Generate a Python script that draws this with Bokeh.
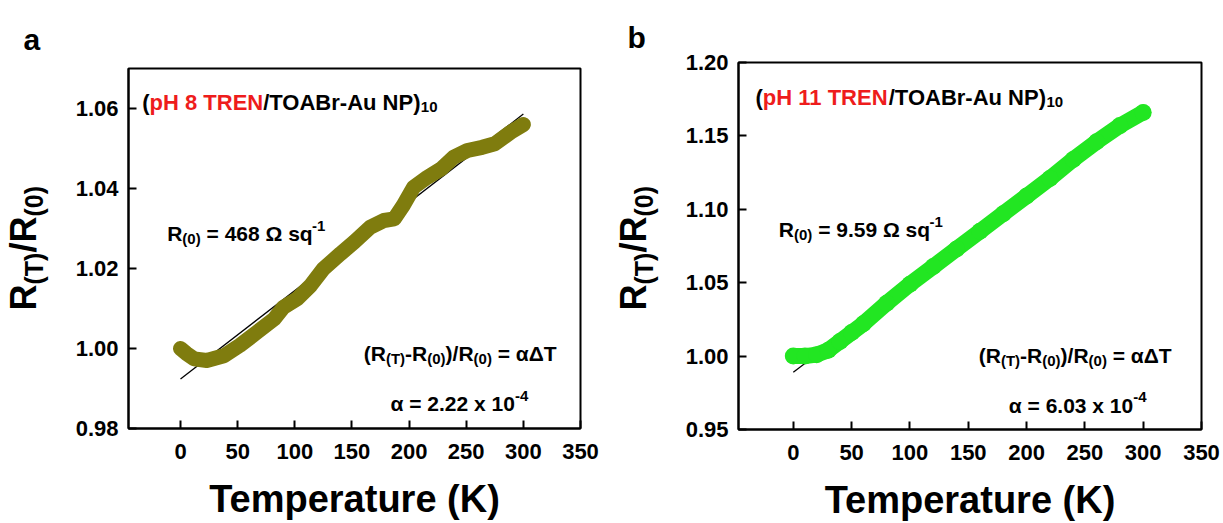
import math
from bokeh.plotting import figure
from bokeh.layouts import row
from bokeh.models import Label, FixedTicker, NumeralTickFormatter
from bokeh.embed import file_html
from bokeh.resources import INLINE

# ---------------- data ----------------
temp_a = [0, 5, 12, 23, 38, 52, 67, 82, 90, 102, 114, 125, 140, 152, 166, 178,
          187, 195, 204, 216, 228, 239, 251, 264, 275, 289, 300]
ratio_a = [1.000, 0.9988, 0.9974, 0.9970, 0.9982, 1.0008, 1.0041, 1.0074, 1.0103,
           1.0124, 1.0158, 1.0199, 1.0237, 1.0266, 1.0303, 1.0320, 1.0324, 1.0358,
           1.0403, 1.0428, 1.0449, 1.0478, 1.0495, 1.0503, 1.0512, 1.0541, 1.0560]
fit_temp_a = [0, 300]
fit_ratio_a = [0.9924, 1.0586]

temp_b = [0, 10, 20, 30, 40, 50, 60, 80, 100, 120, 140, 160, 180, 200, 220, 240,
          260, 280, 300]
ratio_b = [1.000, 1.000, 1.001, 1.004, 1.010, 1.016, 1.022, 1.036, 1.049, 1.061,
           1.073, 1.085, 1.097, 1.109, 1.121, 1.134, 1.146, 1.157, 1.166]
fit_temp_b = [0, 300]
fit_ratio_b = [0.989, 1.170]

x_ticks = [0, 50, 100, 150, 200, 250, 300, 350]
x_tick_labels = ["0", "50", "100", "150", "200", "250", "300", "350"]
y_ticks_a = [0.98, 1.00, 1.02, 1.04, 1.06]
y_tick_labels_a = ["0.98", "1.00", "1.02", "1.04", "1.06"]
y_ticks_b = [0.95, 1.00, 1.05, 1.10, 1.15, 1.20]
y_tick_labels_b = ["0.95", "1.00", "1.05", "1.10", "1.15", "1.20"]

FONT = "Liberation Sans"
RED = "#ee1c1c"
OLIVE = "#7f7c0e"
GREEN = "#22e622"

# Arial/Liberation Sans Bold advance widths (per 1000 em)
W = {' ': 278, '(': 333, ')': 333, '-': 333, '.': 278, '/': 278, '=': 584,
     'A': 722, 'B': 722, 'E': 667, 'H': 722, 'K': 722, 'N': 722, 'O': 778,
     'P': 667, 'R': 722, 'T': 611, 'a': 556, 'e': 556, 'm': 889, 'p': 611,
     'q': 611, 'r': 389, 's': 556, 't': 333, 'u': 611, 'x': 556,
     'Ω': 768, 'α': 618, 'Δ': 722}
for d in "0123456789":
    W[d] = 556


def text_w(s, size):
    return sum(W.get(c, 600) for c in s) / 1000.0 * size


class Panel:
    """Geometry of one figure; frame given in absolute page pixels."""
    def __init__(self, x0, width, height, frame, xr, yr):
        self.x0, self.width, self.height = x0, width, height
        self.L, self.T, self.R, self.B = frame
        self.xr, self.yr = xr, yr

    def to_data(self, px, py):
        x0, x1 = self.xr
        y0, y1 = self.yr
        x = x0 + (px - self.L) / (self.R - self.L) * (x1 - x0)
        y = y1 - (py - self.T) / (self.B - self.T) * (y1 - y0)
        return x, y


def no_align(p):
    try:
        p.frame_align = False
    except Exception:
        pass


def make_fig(g, y_ticks, y_labels):
    p = figure(width=g.width, height=g.height, x_range=g.xr, y_range=g.yr,
               output_backend="svg", toolbar_location=None,
               min_border_left=g.L - g.x0, min_border_right=g.x0 + g.width - g.R,
               min_border_top=g.T, min_border_bottom=g.height - g.B)
    no_align(p)
    p.grid.visible = False
    p.outline_line_color = "black"
    p.outline_line_width = 2
    p.background_fill_color = "white"
    p.border_fill_color = "white"
    for ax in (p.xaxis[0], p.yaxis[0]):
        ax.axis_line_width = 2
        ax.axis_line_color = "black"
        ax.major_tick_in = 8
        ax.major_tick_out = 0
        ax.minor_tick_in = 0
        ax.minor_tick_out = 0
        ax.major_tick_line_width = 2
        ax.major_tick_line_color = "black"
        ax.major_label_text_font = FONT
        ax.major_label_text_font_style = "bold"
        ax.major_label_text_font_size = "22px"
        ax.major_label_text_color = "black"
    xa = p.xaxis[0]
    xa.ticker = FixedTicker(ticks=x_ticks)
    xa.major_label_overrides = {t: l for t, l in zip(x_ticks, x_tick_labels)}
    xa.major_label_standoff = 15
    xa.axis_label = "Temperature (K)"
    xa.axis_label_text_font = FONT
    xa.axis_label_text_font_style = "bold"
    xa.axis_label_text_font_size = "38px"
    xa.axis_label_text_color = "black"
    xa.axis_label_standoff = 16
    ya = p.yaxis[0]
    ya.ticker = FixedTicker(ticks=y_ticks)
    ya.formatter = NumeralTickFormatter(format="0.00")
    ya.major_label_overrides = {t: l for t, l in zip(y_ticks, y_labels)}
    ya.major_label_standoff = 10
    return p


def make_side(g):
    p = figure(width=g.width, height=g.height, x_range=g.xr, y_range=g.yr,
               output_backend="svg", toolbar_location=None, min_border=0,
               min_border_left=0, min_border_right=0, min_border_top=0,
               min_border_bottom=0, x_axis_location=None, y_axis_location=None)
    no_align(p)
    p.grid.visible = False
    p.outline_line_color = None
    p.background_fill_color = "white"
    p.border_fill_color = "white"
    return p


def label(p, x, y, txt, size, color, align, baseline, angle):
    p.add_layout(Label(x=x, y=y, x_units="data", y_units="data", text=txt,
                       text_font=FONT, text_font_style="bold",
                       text_font_size=f"{size}px", text_color=color,
                       text_align=align, text_baseline=baseline, angle=angle))


def runs(p, g, px, py, parts):
    """Horizontal rich text. parts: (text, size, shift, color); shift>0 = down."""
    for txt, size, shift, color in parts:
        lead = len(txt) - len(txt.lstrip(" "))
        if lead:
            px += text_w(" " * lead, size)
            txt = txt.lstrip(" ")
        x, y = g.to_data(px, py + shift)
        label(p, x, y, txt, size, color, "left", "alphabetic", 0.0)
        px += text_w(txt, size)


def vruns(p, g, bx, py, parts):
    """Text rotated 90deg (reads bottom to top). bx: baseline x, py: start y."""
    for txt, size, shift, color in parts:
        w = text_w(txt, size)
        cx = bx + shift - 0.35 * size
        cy = py - w / 2.0
        x, y = g.to_data(cx, cy)
        label(p, x, y, txt, size, color, "center", "middle", math.pi / 2)
        py -= w


def side_labels(p, g, letter, letter_pos, ylab_pos):
    runs(p, g, letter_pos[0], letter_pos[1], [(letter, 30, 0, "black")])
    vruns(p, g, ylab_pos[0], ylab_pos[1],
          [("R", 36, 0, "black"), ("(T)", 25, 6, "black"), ("/R", 36, 0, "black"),
           ("(0)", 25, 6, "black")])


def decorate(p, g, title_pre, r0_value, alpha_value, pos):
    M, S = 21, 15
    runs(p, g, pos["title"][0], pos["title"][1],
         [("(", 22, 0, "black"), (title_pre, 22, 0, RED),
          ("/TOABr-Au NP)", 22, 0, "black"), ("10", S, 5, "black")])
    runs(p, g, pos["r0"][0], pos["r0"][1],
         [("R", M, 0, "black"), ("(0)", S, 5, "black"),
          (f" = {r0_value} Ω sq", M, 0, "black"), ("-1", S, -8, "black")])
    runs(p, g, pos["eq"][0], pos["eq"][1],
         [("(R", M, 0, "black"), ("(T)", S, 5, "black"), ("-R", M, 0, "black"),
          ("(0)", S, 5, "black"), (")/R", M, 0, "black"), ("(0)", S, 5, "black"),
          (" = αΔT", M, 0, "black")])
    runs(p, g, pos["alpha"][0], pos["alpha"][1],
         [(f"α = {alpha_value} x 10", M, 0, "black"), ("-4", S, -8, "black")])


SIDE = 58

# ---------------- left strip + panel a ----------------
gla = Panel(0, SIDE, 523, (0, 0, SIDE, 523), (0, SIDE), (0, 523))
la = make_side(gla)
side_labels(la, gla, "a", (23, 39), (36, 310))

ga = Panel(SIDE, 611 - SIDE, 523, (128, 68, 580, 428), (-45.5, 350), (0.98, 1.07))
pa = make_fig(ga, y_ticks_a, y_tick_labels_a)
pa.line(fit_temp_a, fit_ratio_a, line_color="black", line_width=1.3)
pa.line(temp_a, ratio_a, line_color=OLIVE, line_width=15,
        line_cap="round", line_join="round")
decorate(pa, ga, "pH 8 TREN", "468", "2.22",
         {"title": (141.7, 101.7), "r0": (166.7, 233.3),
          "eq": (363.3, 353.3), "alpha": (390, 403.3)})

# ---------------- left strip + panel b ----------------
glb = Panel(611, SIDE, 523, (611, 0, 611 + SIDE, 523), (0, SIDE), (0, 523))
lb = make_side(glb)
side_labels(lb, glb, "b", (627, 37), (646, 310))

gb = Panel(611 + SIDE, 612 - SIDE, 523, (738, 62, 1201, 431), (-47, 350), (0.95, 1.20))
pb = make_fig(gb, y_ticks_b, y_tick_labels_b)
pb.line(fit_temp_b, fit_ratio_b, line_color="black", line_width=1.3)
pb.line(temp_b, ratio_b, line_color=GREEN, line_width=16,
        line_cap="round", line_join="round")
pb.scatter(temp_b, ratio_b, size=17, fill_color=GREEN, line_color=None)
decorate(pb, gb, "pH 11 TREN", "9.59", "6.03",
         {"title": (755, 96.7), "r0": (778.3, 230),
          "eq": (978.3, 356.7), "alpha": (1008.3, 406.7)})

layout = row(la, pa, lb, pb)
open("out.html", "w").write(file_html(layout, INLINE))
